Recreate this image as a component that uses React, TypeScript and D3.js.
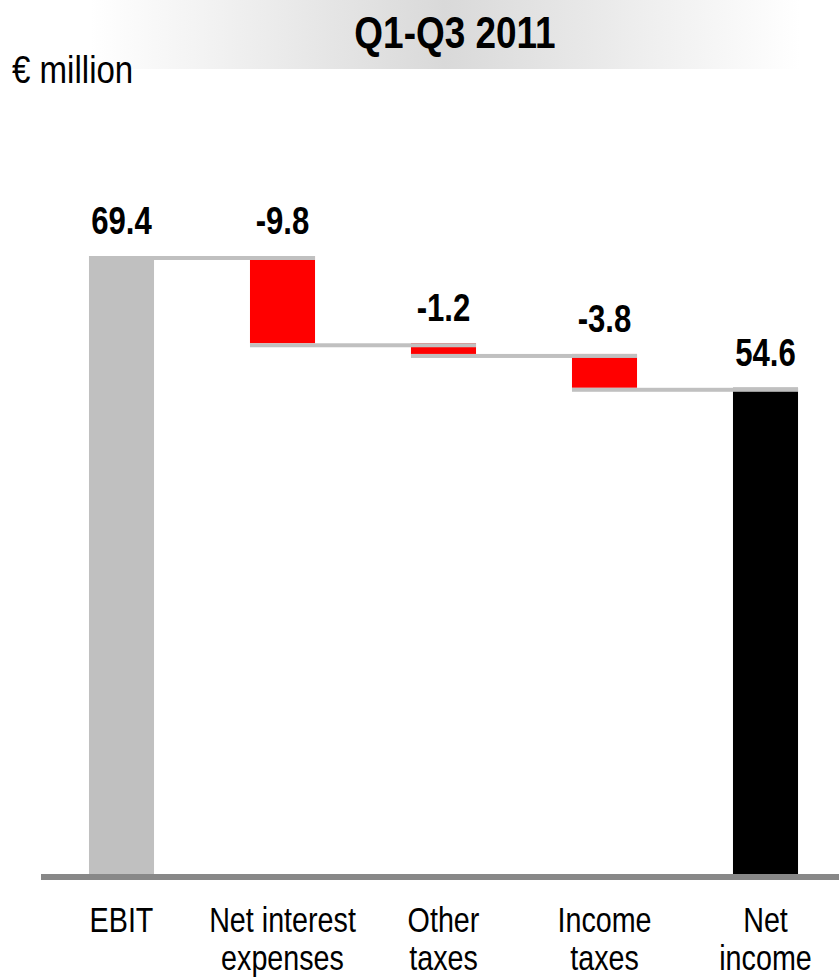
import React from "react";
import * as d3 from "d3";

const categories: string[][] = [
  ["EBIT"],
  ["Net interest", "expenses"],
  ["Other", "taxes"],
  ["Income", "taxes"],
  ["Net", "income"],
];
const values: number[] = [69.4, -9.8, -1.2, -3.8, 54.6];
const kinds: string[] = ["total", "delta", "delta", "delta", "total"];
const valueLabels: string[] = ["69.4", "-9.8", "-1.2", "-3.8", "54.6"];
const title = "Q1-Q3 2011";
const unitLabel = "€ million";

const W = 839;
const H = 979;
const FONT = "'Liberation Sans', Arial, sans-serif";
const NARROW = 0.82;

function NText(props: {
  x: number;
  y: number;
  size: number;
  bold?: boolean;
  anchor?: string;
  sx?: number;
  lines: string[];
  lh?: number;
}) {
  const { x, y, size, bold, anchor = "middle", sx = NARROW, lines, lh = 0 } = props;
  return (
    <g transform={`translate(${x},${y}) scale(${sx},1)`}>
      <text
        x={0}
        y={0}
        textAnchor={anchor}
        fontFamily={FONT}
        fontWeight={bold ? "bold" : "normal"}
        fontSize={size}
        fill="#000"
      >
        {lines.map((t, j) => (
          <tspan key={j} x={0} dy={j === 0 ? 0 : lh}>
            {t}
          </tspan>
        ))}
      </text>
    </g>
  );
}

export default function App() {
  const x = d3
    .scaleBand<number>()
    .domain(values.map((_, i) => i))
    .range([41, 846])
    .paddingInner(0.596)
    .paddingOuter(0.298);
  const y = d3.scaleLinear().domain([0, 69.4]).range([874, 256]);
  const bw = x.bandwidth();

  const segs: { top: number; bottom: number; level: number; kind: string; i: number }[] = [];
  let level = 0;
  values.forEach((v, i) => {
    if (kinds[i] === "total") {
      level = v;
      segs.push({ top: v, bottom: 0, level: v, kind: "total", i });
    } else {
      const next = level + v;
      segs.push({
        top: Math.max(level, next),
        bottom: Math.min(level, next),
        level: next,
        kind: v < 0 ? "neg" : "pos",
        i,
      });
      level = next;
    }
  });

  const fill = (k: string) => (k === "neg" ? "#ff0000" : "#00a000");
  const totalFill = (i: number) => (i === 0 ? "#c0c0c0" : "#000000");
  const cx = (i: number) => (x(i) as number) + bw / 2;

  return (
    <svg width={W} height={H} style={{ position: "absolute", left: 0, top: 0, background: "#fff" }}>
      <defs>
        <linearGradient id="banner" x1="90" x2="800" y1="0" y2="0" gradientUnits="userSpaceOnUse">
          <stop offset="0" stopColor="#ffffff" />
          <stop offset="0.5" stopColor="#d9d9d9" />
          <stop offset="1" stopColor="#ffffff" />
        </linearGradient>
      </defs>
      <rect x={90} y={0} width={W - 90} height={69} fill="url(#banner)" />
      <NText x={455} y={48} size={44} bold lines={[title]} sx={0.84} />
      <NText x={12} y={83} size={38} anchor="start" lines={[unitLabel]} sx={0.87} />

      {segs.map((s) => (
        <rect
          key={"b" + s.i}
          x={x(s.i)}
          y={y(s.top)}
          width={bw}
          height={y(s.bottom) - y(s.top)}
          fill={s.kind === "total" ? totalFill(s.i) : fill(s.kind)}
        />
      ))}

      {segs.slice(0, -1).map((s) => (
        <rect
          key={"c" + s.i}
          x={x(s.i)}
          y={y(s.level)}
          width={(x(s.i + 1) as number) + bw - (x(s.i) as number)}
          height={4}
          fill="#c0c0c0"
        />
      ))}

      <line x1={41} x2={W} y1={877} y2={877} stroke="#888888" strokeWidth={6} />

      {segs.map((s) => (
        <NText key={"v" + s.i} x={cx(s.i)} y={y(s.top) - 22} size={38} bold lines={[valueLabels[s.i]]} />
      ))}

      {categories.map((lines, i) => (
        <NText key={"k" + i} x={cx(i)} y={932} size={35} lines={lines} lh={38} />
      ))}
    </svg>
  );
}
